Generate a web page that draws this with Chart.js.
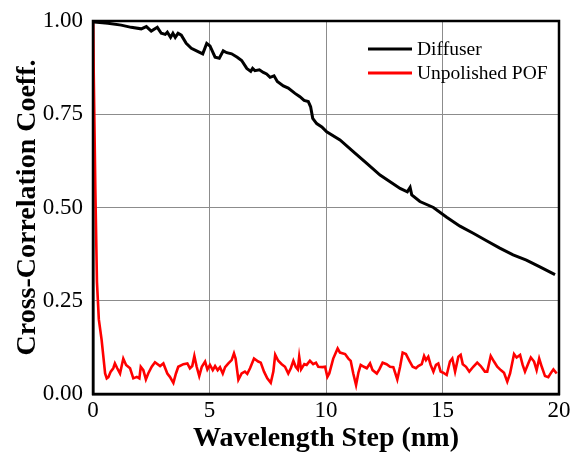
<!DOCTYPE html>
<html lang="en">
<head>
  <meta charset="UTF-8">
  <title>Cross-Correlation vs Wavelength Step</title>
  <script src="https://cdn.jsdelivr.net/npm/chart.js"></script>
  <style>
    body { margin: 0; background: #fff; }
  </style>
</head>
<body>
  <canvas id="myChart" width="570" height="458"></canvas>

  <script>
    // Diffuser curve
    const diffuserX = [0, 0.07, 0.64, 1.21, 1.64, 2.07, 2.29, 2.50, 2.76, 2.93, 3.10, 3.19, 3.33, 3.43, 3.53, 3.65, 3.79,
      4.00, 4.22, 4.51, 4.71, 4.88, 5.02, 5.24, 5.42, 5.59, 5.74, 5.95, 6.19, 6.38, 6.60, 6.77, 6.85, 6.95, 7.14, 7.31,
      7.45, 7.60, 7.77, 7.91, 8.17, 8.38, 8.67, 8.88, 9.06, 9.24, 9.34, 9.43, 9.60, 9.82, 10.03, 10.60, 11.17, 11.75,
      12.32, 12.75, 13.18, 13.49, 13.61, 13.68, 14.03, 14.61, 15.18, 15.75, 16.32, 16.89, 17.46, 18.03, 18.60, 19.18, 19.83]
    const diffuserY = [1.000, 0.997, 0.994, 0.989, 0.983, 0.979, 0.985, 0.973, 0.983, 0.967, 0.964, 0.970, 0.956, 0.967,
      0.956, 0.967, 0.962, 0.940, 0.927, 0.918, 0.912, 0.940, 0.933, 0.903, 0.900, 0.920, 0.915, 0.912, 0.903, 0.894,
      0.873, 0.865, 0.873, 0.867, 0.869, 0.862, 0.858, 0.849, 0.853, 0.838, 0.826, 0.820, 0.806, 0.797, 0.787, 0.784,
      0.770, 0.739, 0.725, 0.716, 0.703, 0.681, 0.650, 0.618, 0.587, 0.569, 0.551, 0.542, 0.554, 0.534, 0.516, 0.500,
      0.474, 0.450, 0.431, 0.411, 0.391, 0.373, 0.359, 0.341, 0.320]

    // Unpolished POF curve
    const pofX = [0, 0.1, 0.17, 0.25, 0.37, 0.52, 0.59, 0.66, 0.76, 0.87, 0.94, 1.04, 1.16, 1.30, 1.42, 1.59, 1.73, 1.88,
      1.99, 2.05, 2.16, 2.27, 2.37, 2.52, 2.66, 2.88, 3.02, 3.19, 3.30, 3.45, 3.56, 3.66, 3.88, 4.05, 4.16, 4.26, 4.35,
      4.45, 4.56, 4.67, 4.81, 4.91, 5.02, 5.14, 5.24, 5.35, 5.45, 5.57, 5.67, 5.81, 5.95, 6.05, 6.12, 6.24, 6.38, 6.52,
      6.62, 6.74, 6.91, 7.09, 7.20, 7.34, 7.48, 7.63, 7.74, 7.82, 7.95, 8.10, 8.24, 8.38, 8.49, 8.60, 8.70, 8.79, 8.85,
      8.93, 9.07, 9.17, 9.31, 9.45, 9.57, 9.67, 9.86, 9.96, 10.06, 10.14, 10.31, 10.50, 10.60, 10.82, 10.96, 11.06,
      11.17, 11.29, 11.39, 11.49, 11.63, 11.75, 11.89, 12.00, 12.18, 12.29, 12.43, 12.60, 12.75, 12.89, 13.06, 13.18,
      13.29, 13.43, 13.58, 13.72, 13.86, 13.96, 14.11, 14.21, 14.29, 14.39, 14.49, 14.61, 14.72, 14.82, 14.92, 15.03,
      15.18, 15.32, 15.42, 15.54, 15.68, 15.78, 15.87, 16.01, 16.15, 16.32, 16.49, 16.64, 16.82, 16.92, 17.07, 17.21,
      17.35, 17.50, 17.64, 17.78, 17.90, 18.07, 18.18, 18.33, 18.44, 18.54, 18.68, 18.79, 18.93, 19.04, 19.15, 19.26,
      19.40, 19.54, 19.69, 19.76, 19.90]
    const pofY = [1.000, 0.55, 0.30, 0.20, 0.145, 0.055, 0.042, 0.045, 0.060, 0.069, 0.082, 0.069, 0.055, 0.095, 0.078,
      0.069, 0.042, 0.046, 0.042, 0.073, 0.064, 0.039, 0.055, 0.073, 0.085, 0.075, 0.082, 0.055, 0.046, 0.030, 0.055,
      0.073, 0.080, 0.082, 0.069, 0.075, 0.102, 0.073, 0.048, 0.073, 0.087, 0.066, 0.078, 0.064, 0.075, 0.064, 0.072,
      0.055, 0.072, 0.082, 0.091, 0.109, 0.095, 0.038, 0.055, 0.060, 0.054, 0.069, 0.095, 0.087, 0.084, 0.060, 0.042,
      0.030, 0.060, 0.105, 0.089, 0.080, 0.073, 0.055, 0.069, 0.089, 0.073, 0.066, 0.100, 0.066, 0.080, 0.078, 0.089,
      0.080, 0.084, 0.073, 0.072, 0.073, 0.046, 0.055, 0.095, 0.122, 0.111, 0.107, 0.095, 0.089, 0.055, 0.024, 0.057,
      0.078, 0.073, 0.069, 0.082, 0.064, 0.055, 0.066, 0.084, 0.080, 0.073, 0.072, 0.039, 0.073, 0.111, 0.107, 0.089,
      0.073, 0.069, 0.075, 0.080, 0.102, 0.091, 0.100, 0.078, 0.060, 0.078, 0.082, 0.060, 0.057, 0.051, 0.087, 0.095,
      0.060, 0.100, 0.105, 0.080, 0.073, 0.060, 0.073, 0.084, 0.075, 0.060, 0.060, 0.102, 0.087, 0.073, 0.064, 0.057,
      0.033, 0.055, 0.107, 0.098, 0.105, 0.078, 0.060, 0.082, 0.098, 0.087, 0.064, 0.095, 0.073, 0.048, 0.045, 0.060,
      0.066, 0.055]

    const xTicks = [0, 5, 10, 15, 20]
    const yTicks = [0, 0.25, 0.5, 0.75, 1]

    const serif = "'Liberation Serif', 'Times New Roman', serif"

    function toPoints(xs, ys) {
      return xs.map((x, i) => ({ x: x, y: ys[i] }))
    }

    // black frame around the plot plus the in-plot legend
    const framePlugin = {
      id: 'frame',
      afterDatasetsDraw(chart) {
        const { ctx, chartArea: a } = chart
        ctx.save()
        ctx.strokeStyle = '#000'
        ctx.lineWidth = 2.5
        ctx.strokeRect(a.left, a.top, a.right - a.left, a.bottom - a.top)

        ctx.font = '19.5px ' + serif
        ctx.textBaseline = 'middle'
        ctx.fillStyle = '#000'
        chart.data.datasets.forEach((ds, i) => {
          const y = 49 + i * 24
          ctx.strokeStyle = ds.borderColor
          ctx.lineWidth = 3
          ctx.beginPath()
          ctx.moveTo(368, y)
          ctx.lineTo(412, y)
          ctx.stroke()
          ctx.fillText(ds.label, 417, y + 1)
        })
        ctx.restore()
      }
    }

    new Chart(document.getElementById('myChart'), {
      type: 'line',
      data: {
        datasets: [
          {
            label: 'Diffuser',
            data: toPoints(diffuserX, diffuserY),
            borderColor: '#000000',
            borderWidth: 3,
            pointRadius: 0,
            tension: 0
          },
          {
            label: 'Unpolished POF',
            data: toPoints(pofX, pofY),
            borderColor: '#ff0000',
            borderWidth: 2.6,
            pointRadius: 0,
            tension: 0
          }
        ]
      },
      plugins: [framePlugin],
      options: {
        responsive: false,
        animation: false,
        layout: { padding: { top: 21, right: 11, left: 0, bottom: 0 } },
        plugins: {
          legend: { display: false },
          tooltip: { enabled: false }
        },
        scales: {
          x: {
            type: 'linear',
            min: 0,
            max: 20,
            afterBuildTicks: (s) => { s.ticks = xTicks.map(v => ({ value: v })) },
            ticks: { color: '#000', font: { family: serif, size: 23 }, padding: 3, maxRotation: 0 },
            grid: { color: '#8c8c8c', lineWidth: 1, drawTicks: false },
            border: { color: '#000', width: 2.5 },
            title: {
              display: true,
              text: 'Wavelength Step (nm)',
              color: '#000',
              font: { family: serif, size: 28, weight: 'bold' },
              padding: { top: 0, bottom: 2 }
            },
            afterFit: (s) => {
              s.height = 64
              s.paddingLeft = 0
              s.paddingRight = 0
            }
          },
          y: {
            min: 0,
            max: 1,
            afterBuildTicks: (s) => { s.ticks = yTicks.map(v => ({ value: v })) },
            ticks: {
              color: '#000',
              font: { family: serif, size: 23 },
              padding: 10,
              callback: (v) => v.toFixed(2)
            },
            grid: { color: '#8c8c8c', lineWidth: 1, drawTicks: false },
            border: { color: '#000', width: 2.5 },
            title: {
              display: true,
              text: 'Cross-Correlation Coeff.',
              color: '#000',
              font: { family: serif, size: 28, weight: 'bold' },
              padding: { top: 11, bottom: 0 }
            },
            afterFit: (s) => {
              s.width = 93
              s.paddingTop = 0
              s.paddingBottom = 0
            }
          }
        }
      }
    });
  </script>
</body>
</html>
